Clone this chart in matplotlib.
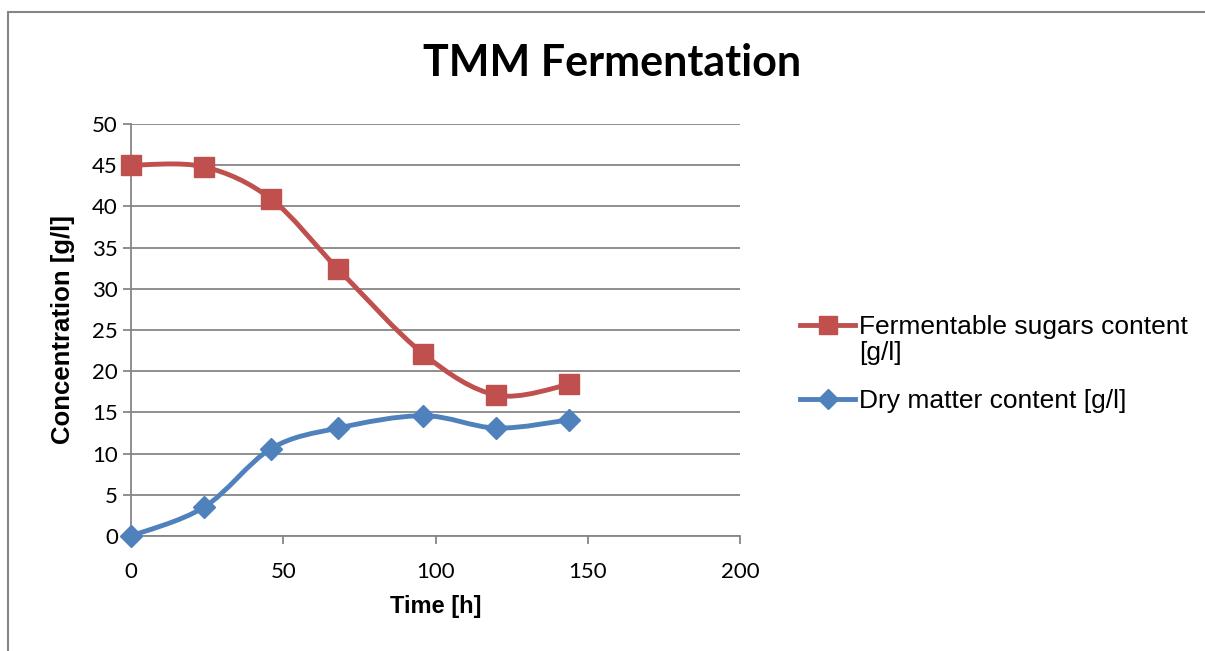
import matplotlib.pyplot as plt
from matplotlib.path import Path
from matplotlib.patches import PathPatch, Rectangle
from matplotlib.lines import Line2D

time_h = [0, 24, 46, 68, 96, 120, 144]
sugars = [45.0, 44.8, 40.9, 32.4, 22.1, 17.1, 18.4]
dry_matter = [0.0, 3.5, 10.6, 13.1, 14.6, 13.1, 14.1]

red = "#C0504D"
blue = "#4F81BD"
grey = "#868686"


def smooth_path(xs, ys):
    # excel style smoothed line: cubic bezier through every point
    pts = list(zip(xs, ys))
    verts = [pts[0]]
    codes = [Path.MOVETO]
    n = len(pts)
    for i in range(n - 1):
        p0 = pts[max(i - 1, 0)]
        p1 = pts[i]
        p2 = pts[i + 1]
        p3 = pts[min(i + 2, n - 1)]
        c1 = (p1[0] + (p2[0] - p0[0]) / 6, p1[1] + (p2[1] - p0[1]) / 6)
        c2 = (p2[0] - (p3[0] - p1[0]) / 6, p2[1] - (p3[1] - p1[1]) / 6)
        verts += [c1, c2, p2]
        codes += [Path.CURVE4] * 3
    return Path(verts, codes)


fig = plt.figure(figsize=(12.05, 6.51), dpi=100)
ax = fig.add_axes([131 / 1205, 115 / 651, 609 / 1205, 412 / 651])

for xs, ys, col, mk, ms in [(time_h, sugars, red, "s", 14), (time_h, dry_matter, blue, "D", 11)]:
    ax.add_patch(PathPatch(smooth_path(xs, ys), facecolor="none", edgecolor=col,
                           lw=3.5, capstyle="round", zorder=3))
    ax.plot(xs, ys, ls="none", marker=mk, ms=ms, color=col, mec=col, zorder=4, clip_on=False)

ax.set_xlim(0, 200)
ax.set_ylim(0, 50)
ax.set_xticks(range(0, 201, 50))
ax.set_yticks(range(0, 51, 5))
ax.yaxis.grid(True, color=grey, lw=1.3)
ax.set_axisbelow(True)
for s in ["top", "right"]:
    ax.spines[s].set_visible(False)
for s in ["left", "bottom"]:
    ax.spines[s].set_color(grey)
    ax.spines[s].set_linewidth(1.3)
ax.tick_params(axis="both", colors=grey, width=1.3, length=6, labelcolor="black",
               labelsize=16)
ax.tick_params(axis="x", pad=13)
for lab in ax.get_xticklabels() + ax.get_yticklabels():
    lab.set_fontfamily("Lato")

ax.set_xlabel("Time [h]", fontsize=17, fontweight="bold", family="Liberation Sans", labelpad=9)
ax.set_ylabel("Concentration [g/l]", fontsize=18.5, fontweight="bold", family="Liberation Sans",
              labelpad=12)

fig.text(612 / 1205, 1 - 63 / 651, "TMM Fermentation", ha="center", va="center",
         fontsize=31, fontweight="bold", family="Lato")

leg_font = {"family": "Liberation Sans", "size": 19}
leg1 = fig.legend([Line2D([], [], color=red, lw=3.5, marker="s", ms=13),
                   Line2D([], [], color="none")],
                  ["Fermentable sugars content", "[g/l]"],
                  loc="center left", bbox_to_anchor=(800 / 1205, 1 - 340 / 651),
                  frameon=False, prop=leg_font, borderpad=0, borderaxespad=0,
                  handlelength=2.1, handletextpad=0.15, labelspacing=0.05)
leg2 = fig.legend([Line2D([], [], color=blue, lw=3.5, marker="D", ms=10)],
                  ["Dry matter content [g/l]"],
                  loc="center left", bbox_to_anchor=(800 / 1205, 1 - 401 / 651),
                  frameon=False, prop=leg_font, borderpad=0, borderaxespad=0,
                  handlelength=2.1, handletextpad=0.15)

fig.add_artist(Rectangle((8 / 1205, -0.1), 1.2, 1.1 - 12 / 651, transform=fig.transFigure,
                         facecolor="none", edgecolor=grey, lw=1.5))

fig.savefig("out.png", dpi=100)
